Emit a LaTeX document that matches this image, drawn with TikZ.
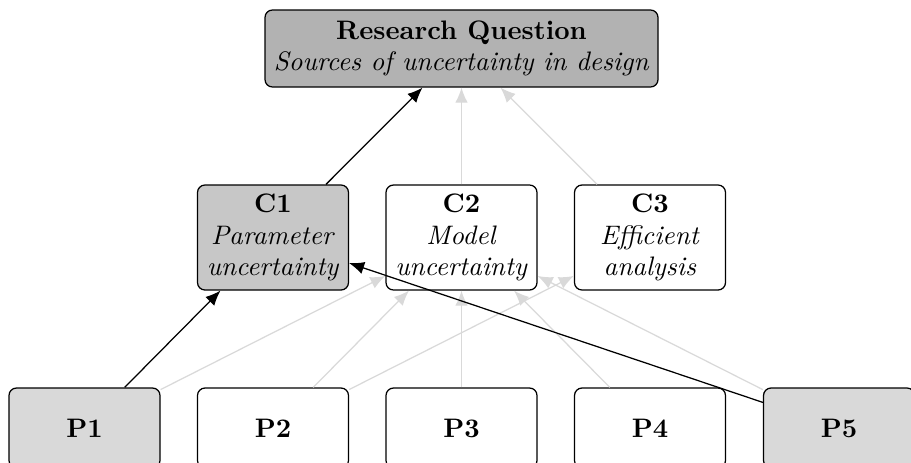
\documentclass[tikz,border=0pt]{standalone}
\usetikzlibrary{arrows.meta}
\begin{document}
\begin{tikzpicture}[x=0.4pt,y=-0.4pt,
  box/.style={draw=black, line width=0.5pt, rounded corners=3pt, minimum width=60.4pt, align=center, inner sep=0pt, fill=white, font=\fontsize{10.7}{12.6}\selectfont},
  cbox/.style={box, minimum height=42pt},
  pbox/.style={box, minimum height=32pt},
  rqbox/.style={box, minimum width=157.2pt, minimum height=30.8pt, fill=black!30},
  strongarrow/.style={-{Latex[length=6pt,width=5pt]}, black, line width=0.5pt},
  weakarrow/.style={-{Latex[length=6pt,width=5pt]}, black!15, line width=0.5pt}]
\useasboundingbox (0,0) rectangle (911,462);
\clip (0,0) rectangle (911,462);

\node[rqbox] (rq) at (461.5,48.5) {\textbf{Research Question}\\\textit{Sources of uncertainty in design}};

\node[cbox, fill=black!22] (c1) at (273,237.5) {\textbf{C1}\\\textit{Parameter}\\\textit{uncertainty}};
\node[cbox] (c2) at (461.5,237.5) {\textbf{C2}\\\textit{Model}\\\textit{uncertainty}};
\node[cbox] (c3) at (650,237.5) {\textbf{C3}\\\textit{Efficient}\\\textit{analysis}};

\node[pbox, fill=black!15] (p1) at (84.5,428) {\textbf{P1}};
\node[pbox] (p2) at (273,428) {\textbf{P2}};
\node[pbox] (p3) at (461.5,428) {\textbf{P3}};
\node[pbox] (p4) at (650,428) {\textbf{P4}};
\node[pbox, fill=black!15] (p5) at (839,428) {\textbf{P5}};

\draw[weakarrow] (c2) -- (rq);
\draw[weakarrow] (c3) -- (rq);
\draw[weakarrow] (p1) -- (c2);
\draw[weakarrow] (p2) -- (c2);
\draw[weakarrow] (p2) -- (c3);
\draw[weakarrow] (p3) -- (c2);
\draw[weakarrow] (p4) -- (c2);
\draw[weakarrow] (p5) -- (c2);

\draw[strongarrow] (c1) -- (rq);
\draw[strongarrow] (p1) -- (c1);
\draw[strongarrow] (p5) -- (c1);
\end{tikzpicture}
\end{document}
